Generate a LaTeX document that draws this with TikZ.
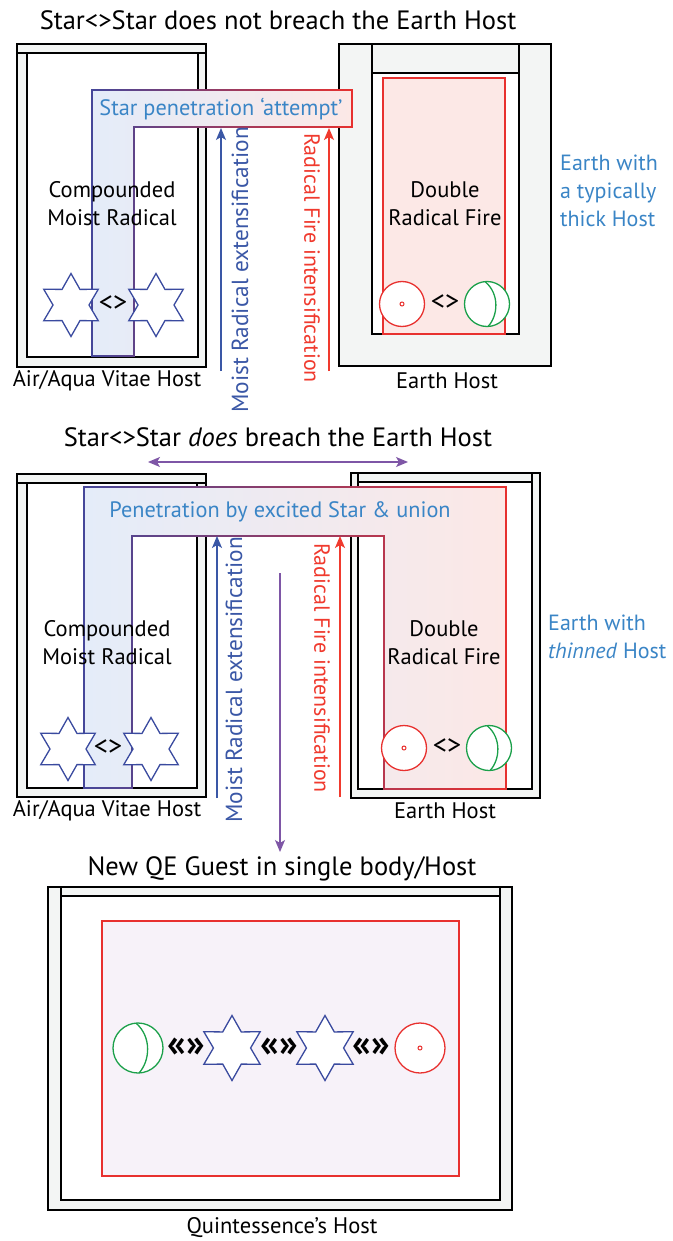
\documentclass[tikz,border=0pt]{standalone}
\usepackage{fontspec}
\setmainfont{PT Sans}
\usetikzlibrary{shapes.geometric,arrows.meta,fadings}
\definecolor{hostgray}{HTML}{F3F5F4}
\definecolor{starblue}{HTML}{3A4A9F}
\definecolor{firered}{HTML}{E8312F}
\definecolor{earthgreen}{HTML}{1BA04A}
\definecolor{labelblue}{HTML}{3A85C6}
\definecolor{pinkfill}{HTML}{FCE8E6}
\definecolor{bluefill}{HTML}{E4ECF9}
\definecolor{lavfill}{HTML}{F7F2F9}
\definecolor{arrowblue}{HTML}{3A57A6}
\definecolor{arrowred}{HTML}{F03A2E}
\definecolor{purplearrow}{HTML}{7E56A6}
\definecolor{penblue}{HTML}{45479A}
\begin{document}
\begin{tikzpicture}[x=1pt,y=-1pt,
  hostline/.style={draw=black,line width=1.8pt},
  firebox/.style={draw=firered,line width=1.5pt},
  penline/.style={line width=1.5pt},
  starnode/.style={star,star points=6,star point ratio=1.75,minimum size=63pt,inner sep=0pt,draw=starblue,line width=1.3pt,fill=white},
  firenode/.style={circle,minimum size=45pt,inner sep=0pt,draw=firered,line width=1.3pt,fill=white},
  firedot/.style={circle,minimum size=4pt,inner sep=0pt,draw=firered,line width=1pt},
  earthnode/.style={circle,minimum size=45pt,inner sep=0pt,draw=earthgreen,line width=1.3pt,fill=white},
  meridian/.style={draw=earthgreen,line width=1.3pt},
  title/.style={font=\fontsize{26.5}{30}\selectfont,inner sep=0pt},
  lab/.style={font=\fontsize{22.5}{28}\selectfont,inner sep=0pt,align=center},
  bluelab/.style={font=\fontsize{22}{28}\selectfont,inner sep=0pt,align=left,text=labelblue,anchor=west},
  rel/.style={font=\fontsize{28}{30}\selectfont,inner sep=0pt},
  relbold/.style={font=\fontsize{38}{38}\selectfont\bfseries,inner sep=0pt},
  upblue/.style={draw=arrowblue,line width=1.3pt,-{Stealth[length=12pt,width=10pt,inset=3pt]}},
  upred/.style={draw=arrowred,line width=1.3pt,-{Stealth[length=12pt,width=10pt,inset=3pt]}},
  purplearr/.style={draw=purplearrow,line width=1.3pt,-{Stealth[length=12pt,width=10pt,inset=3pt]}},
  purpledbl/.style={draw=purplearrow,line width=1.3pt,{Stealth[length=12pt,width=10pt,inset=3pt]}-{Stealth[length=12pt,width=10pt,inset=3pt]}},
  bluetext/.style={font=\fontsize{23.3}{28}\selectfont,inner sep=0pt,text=arrowblue},
  redtext/.style={font=\fontsize{22}{26}\selectfont,inner sep=0pt,text=arrowred},
  pentext/.style={font=\fontsize{22.3}{26}\selectfont,inner sep=0pt,text=labelblue}
]
\useasboundingbox (0,0) rectangle (672,1241);
\fill[white] (0,0) rectangle (672,1241);

% ================= TOP PANEL =================
\node[title] (t1) at (278,20) {Star<>Star does not breach the Earth Host};

% left host
\fill[hostgray] (17,44) rectangle (206,367);
\fill[white] (27,53) rectangle (198,357);
\draw[hostline] (17,44) rectangle (206,367);
\draw[hostline] (17,53) -- (206,53);
\draw[hostline] (27,53) -- (27,357) -- (198,357) -- (198,53);

% right host (thick)
\fill[hostgray] (339,44) rectangle (551,366);
\fill[white] (372,73) rectangle (519,334);
\draw[hostline] (339,44) rectangle (551,366);
\draw[hostline] (372,44) -- (372,334) -- (519,334) -- (519,44);
\draw[hostline] (372,73) -- (519,73);
\fill[pinkfill] (383,78) rectangle (505,334);
\draw[firebox] (383,78) rectangle (505,334);

% penetration attempt shape
\path[left color=bluefill,right color=pinkfill] (92,356) -- (92,90) -- (352,90) -- (352,127) -- (134,127) -- (134,356) -- cycle;
\draw[penline,draw=penblue] (92,356) -- (92,90) -- (352,90) -- (352,127) -- (134,127) -- (134,356) -- cycle;
\draw[penline,draw=firered,path fading=west] (92,356) -- (92,90) -- (352,90) -- (352,127) -- (134,127) -- (134,356) -- cycle;
\node[pentext] (p1) at (221,109) {Star penetration ‘attempt’};

\node[lab] (cm1) at (112,204) {Compounded\\Moist Radical};
\node[lab] (df1) at (445,204) {Double\\Radical Fire};

\node[starnode] (s1a) at (71,305) {};
\node[starnode] (s1b) at (156,305) {};
\node[rel] (r1a) at (113,304) {<>};

\node[firenode] (f1) at (402,304) {};
\node[firedot] (fd1) at (f1.center) {};
\node[earthnode] (e1) at (487,304) {};
\draw[meridian] ([shift={(-2,-22.4)}]e1.center) .. controls ([shift={(13,-10)}]e1.center) and ([shift={(11,12)}]e1.center) .. ([shift={(1,22.5)}]e1.center);
\node[rel] (r1b) at (445,303) {<>};

\coordinate (ab1s) at (221,371);
\coordinate (ab1e) at (221,128);
\draw[upblue] (ab1s) -- (ab1e);
\node[bluetext,rotate=90] (mr1) at (240,270) {Moist Radical extensification};
\coordinate (ar1s) at (329,371);
\coordinate (ar1e) at (329,128);
\draw[upred] (ar1s) -- (ar1e);
\node[redtext,rotate=-90] (rf1) at (312,258) {Radical Fire intensification};

\node[lab] (h1a) at (107,381) {Air/Aqua Vitae Host};
\node[lab] (h1b) at (447,381) {Earth Host};
\node[bluelab] (ew1) at (560,191) {Earth with\\a typically\\thick Host};

% ================= MIDDLE PANEL =================
\node[title] (t2) at (278,437) {Star<>Star \textit{does} breach the Earth Host};
\coordinate (dl) at (148,462);
\coordinate (dr) at (408,462);
\draw[purpledbl] (dl) -- (dr);

% left host
\fill[hostgray] (17,474) rectangle (206,797);
\fill[white] (27,483) rectangle (197,788);
\draw[hostline] (17,474) rectangle (206,797);
\draw[hostline] (17,483) -- (206,483);
\draw[hostline] (27,483) -- (27,788) -- (197,788) -- (197,483);

% right host (thinned)
\fill[hostgray] (351,473) rectangle (540,798);
\fill[white] (358,482) rectangle (532,789);
\draw[hostline] (351,473) rectangle (540,798);
\draw[hostline] (358,473) -- (358,789) -- (532,789) -- (532,473);
\draw[hostline] (358,482) -- (532,482);

% penetration & union shape
\path[left color=bluefill,right color=pinkfill] (84,788) -- (84,487) -- (506,487) -- (506,789) -- (384,789) -- (384,536) -- (132,536) -- (132,788) -- cycle;
\draw[penline,draw=penblue] (84,788) -- (84,487) -- (506,487) -- (506,789) -- (384,789) -- (384,536) -- (132,536) -- (132,788) -- cycle;
\draw[penline,draw=firered,path fading=west] (84,788) -- (84,487) -- (506,487) -- (506,789) -- (384,789) -- (384,536) -- (132,536) -- (132,788) -- cycle;
\node[pentext] (p2) at (280,512) {Penetration by excited Star \& union};

\node[lab] (cm2) at (107,643) {Compounded\\Moist Radical};
\node[lab] (df2) at (444,643) {Double\\Radical Fire};

\node[starnode] (s2a) at (68,749) {};
\node[starnode] (s2b) at (151,749) {};
\node[rel] (r2a) at (108,748) {<>};

\node[firenode] (f2) at (404,748) {};
\node[firedot] (fd2) at (f2.center) {};
\node[earthnode] (e2) at (489,748) {};
\draw[meridian] ([shift={(-2,-22.4)}]e2.center) .. controls ([shift={(13,-10)}]e2.center) and ([shift={(11,12)}]e2.center) .. ([shift={(1,22.5)}]e2.center);
\node[rel] (r2b) at (447,747) {<>};

\coordinate (ab2s) at (217,798);
\coordinate (ab2e) at (217,536);
\draw[upblue] (ab2s) -- (ab2e);
\node[bluetext,rotate=90] (mr2) at (234,680) {Moist Radical extensification};
\coordinate (ar2s) at (340,797);
\coordinate (ar2e) at (340,536);
\draw[upred] (ar2s) -- (ar2e);
\node[redtext,rotate=-90] (rf2) at (322,668) {Radical Fire intensification};

\coordinate (pd1) at (280,573);
\coordinate (pd2) at (280,852);
\draw[purplearr] (pd1) -- (pd2);

\node[lab] (h2a) at (107,811) {Air/Aqua Vitae Host};
\node[lab] (h2b) at (445,811) {Earth Host};
\node[bluelab] (ew2) at (548,637) {Earth with\\\textit{thinned} Host};

% ================= BOTTOM PANEL =================
\node[title] (t3) at (282,869) {New QE Guest in single body/Host};

\fill[hostgray] (48,887) rectangle (512,1210);
\fill[white] (61,896) rectangle (500,1200);
\draw[hostline] (48,887) rectangle (512,1210);
\draw[hostline] (61,887) -- (61,1200) -- (500,1200) -- (500,887);
\draw[hostline] (61,896) -- (500,896);
\fill[lavfill] (102,921) rectangle (459,1176);
\draw[firebox] (102,921) rectangle (459,1176);

\node[earthnode,minimum size=50pt] (e3) at (138,1048) {};
\draw[meridian] ([shift={(-2,-24.9)}]e3.center) .. controls ([shift={(14,-11)}]e3.center) and ([shift={(12,13)}]e3.center) .. ([shift={(1,25)}]e3.center);
\node[relbold] (q1) at (186,1047) {«»};
\node[starnode,minimum size=65pt] (s3a) at (232,1048) {};
\node[relbold] (q2) at (279,1047) {«»};
\node[starnode,minimum size=65pt] (s3b) at (325,1048) {};
\node[relbold] (q3) at (371,1047) {«»};
\node[firenode,minimum size=50pt] (f3) at (420,1048) {};
\node[firedot] (fd3) at (f3.center) {};

\node[lab] (h3) at (282,1228) {Quintessence’s Host};
\end{tikzpicture}
\end{document}
